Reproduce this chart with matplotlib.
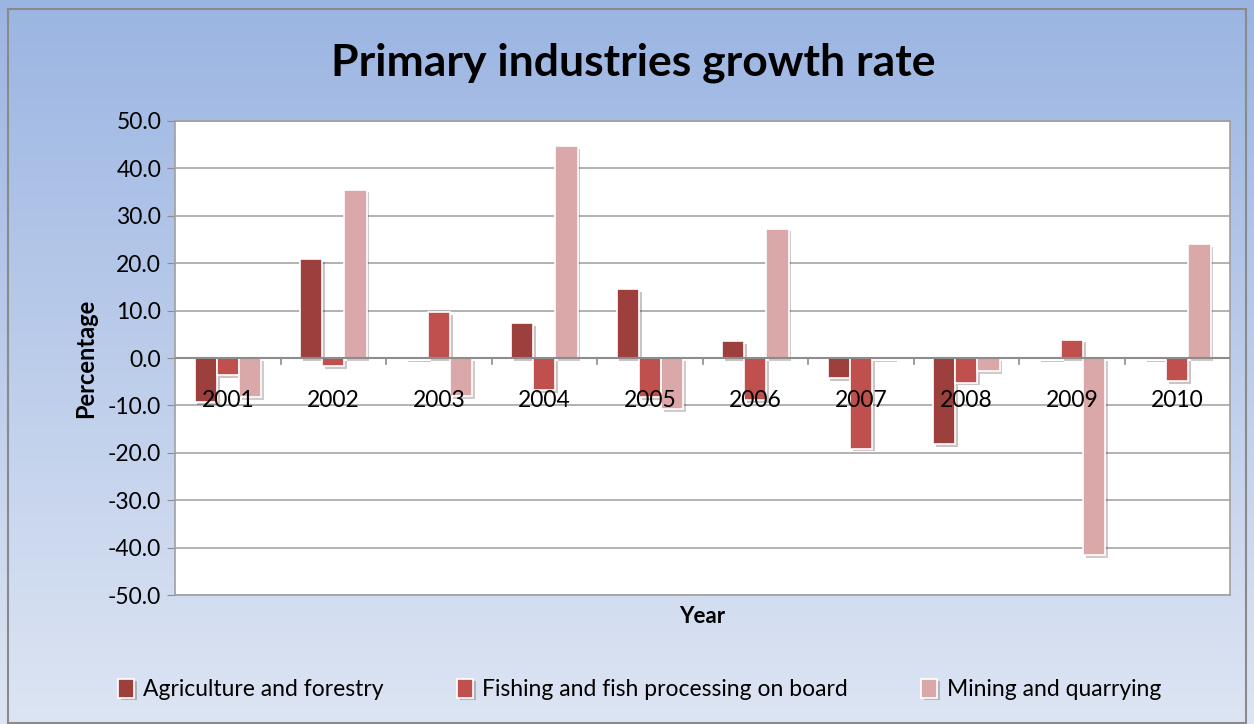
import numpy as np
import matplotlib.pyplot as plt
import matplotlib.patheffects as pe
from matplotlib.patches import Rectangle

plt.rcParams['font.family'] = ['Lato', 'DejaVu Sans']

years = ['2001', '2002', '2003', '2004', '2005', '2006', '2007', '2008', '2009', '2010']
agriculture = [-9.3, 20.8, -0.3, 7.3, 14.5, 3.5, -4.3, -18.1, -0.3, -0.3]
fishing = [-3.6, -1.7, 9.7, -6.8, -8.2, -8.8, -19.1, -5.2, 3.9, -4.9]
mining = [-8.2, 35.5, -8.0, 44.7, -10.7, 27.3, -0.3, -2.7, -41.5, 24.1]

series = [
    ('Agriculture and forestry', agriculture, '#9c3f3d'),
    ('Fishing and fish processing on board', fishing, '#c0504d'),
    ('Mining and quarrying', mining, '#daa8a8'),
]

fig = plt.figure(figsize=(12.54, 7.24), dpi=100)

# gradient background
bg = fig.add_axes([0, 0, 1, 1], zorder=-10)
grad = np.linspace(0, 1, 256).reshape(-1, 1)
top = np.array([155, 181, 226]) / 255
bot = np.array([221, 229, 243]) / 255
img = top + (bot - top) * grad[..., None]
bg.imshow(img, aspect='auto', extent=[0, 1, 0, 1])
bg.add_patch(Rectangle((0.0065, 0.002), 0.987, 0.986, fill=False,
                       edgecolor='#8a8a8a', lw=1.5, transform=bg.transAxes))
bg.set_xlim(0, 1)
bg.set_ylim(0, 1)
bg.axis('off')

ax = fig.add_axes([0.1396, 0.178, 0.8413, 0.655])
ax.set_facecolor('white')

x = np.arange(len(years))
w = 0.21
shadow = [pe.SimplePatchShadow(offset=(2, -2), alpha=0.25), pe.Normal()]
handles = []
for i, (name, vals, col) in enumerate(series):
    b = ax.bar(x + (i - 1) * w, vals, w, color=col, edgecolor='white',
               linewidth=1.2, zorder=3, label=name)
    for p in b:
        p.set_path_effects(shadow)
    handles.append(b)

ax.set_xlim(-0.5, len(years) - 0.5)
ax.set_ylim(-50, 50)
ax.set_yticks(np.arange(-50, 51, 10))
ax.set_yticklabels([f'{v:.1f}' for v in np.arange(-50, 51, 10)], fontsize=16.5)
ax.yaxis.grid(True, color='#a6a6a6', lw=1.2, zorder=0)
ax.tick_params(axis='y', length=6, color='#8c8c8c', pad=4)
ax.set_xticks([])
for s in ax.spines.values():
    s.set_color('#a0a0a0')
    s.set_linewidth(1.2)

# category axis along zero with boundary ticks
ax.axhline(0, color='#8c8c8c', lw=1.5, zorder=4)
for b in np.arange(0.5, len(years) - 1, 1.0):
    ax.plot([b, b], [0, -1.3], color='#8c8c8c', lw=1.2, zorder=4)
for xi, yr in zip(x, years):
    ax.text(xi, -9.0, yr, ha='center', va='center', fontsize=16.5, zorder=5)

ax.set_ylabel('Percentage', fontsize=17, fontweight='bold', labelpad=8)
ax.set_xlabel('Year', fontsize=16, fontweight='bold', labelpad=8)

fig.text(0.505, 0.914, 'Primary industries growth rate', ha='center', va='center',
         fontsize=32, fontweight='bold')

fig.legend(handles=handles, loc='center', bbox_to_anchor=(0.51, 0.048), ncol=3,
           frameon=False, fontsize=16.5, handlelength=0.7, handleheight=0.9,
           columnspacing=3.2, handletextpad=0.4)

fig.savefig('out.png', dpi=100)
